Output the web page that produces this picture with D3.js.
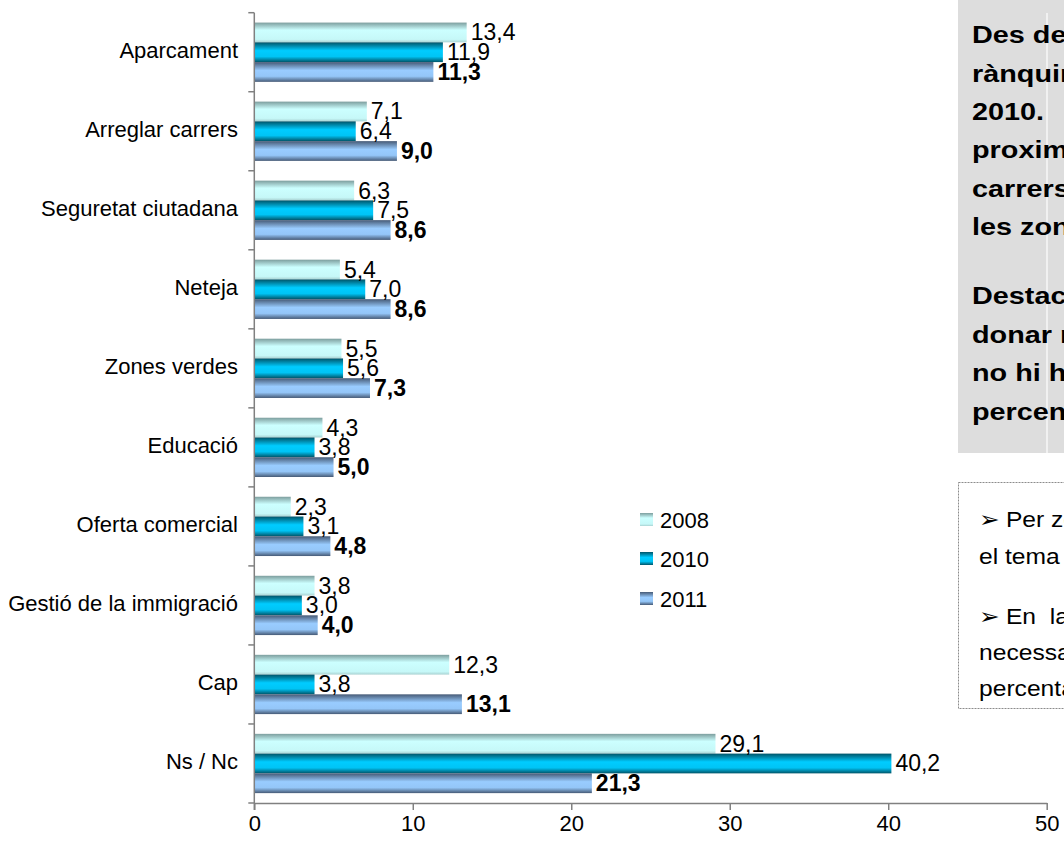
<!DOCTYPE html>
<html>
<head>
<meta charset="utf-8">
<script src="https://cdn.jsdelivr.net/npm/d3@7"></script>
<style>
  html, body { margin: 0; padding: 0; overflow: hidden; background: #fff; }
  svg { display: block; font-family: "Liberation Sans", Arial, sans-serif; }
</style>
</head>
<body>
<svg id="chart" width="1064" height="843"></svg>
<script>
const categories = ["Aparcament", "Arreglar carrers", "Seguretat ciutadana", "Neteja", "Zones verdes",
  "Educació ", "Oferta comercial", "Gestió de la immigració", "Cap", "Ns / Nc"];
const seriesNames = ["2008", "2010", "2011"];
const values2008 = [13.4, 7.1, 6.3, 5.4, 5.5, 4.3, 2.3, 3.8, 12.3, 29.1];
const values2010 = [11.9, 6.4, 7.5, 7.0, 5.6, 3.8, 3.1, 3.0, 3.8, 40.2];
const values2011 = [11.3, 9.0, 8.6, 8.6, 7.3, 5.0, 4.8, 4.0, 13.1, 21.3];
const xTicks = [0, 10, 20, 30, 40, 50];

const NB = "\u00A0";
const boxLines = [
  "Des de 2008 l'aparcament encapçala el",
  "rànquing de millores, excepte l'any",
  "2010." + NB.repeat(6) + "Per darrere se situen, amb",
  "proximitat, la neteja, arreglar els",
  "carrers, la seguretat ciutadana i",
  "les zones verdes."
];
const boxLines2 = [
  "Destaca l'elevat percentatge de no",
  "donar resposta, tot i que enguany",
  "no hi ha tant de volum de gent",
  "percentatge del 21,3%."
];
const noteLines = [
  "\u27A2 Per zones, a totes destaca",
  "el tema de l'aparcament.",
  "\u27A2 En" + NB + NB + "la zona nord es veu",
  "necessari arreglar carrers en un",
  "percentatge més elevat."
];

const seriesValues = [values2008, values2010, values2011];
const svg = d3.select("#chart");

// gradients
const defs = svg.append("defs");
const grads = [
  {id: "g2008", stops: [[0, "#7d9e9e"], [0.38, "#ccffff"], [0.85, "#c6f8f8"], [1, "#a9d2d2"]]},
  {id: "g2010", stops: [[0, "#005468"], [0.42, "#00ccff"], [0.72, "#00c4f5"], [1, "#005468"]]},
  {id: "g2011", stops: [[0, "#465a76"], [0.42, "#99ccff"], [0.72, "#94c6f8"], [1, "#465a76"]]}
];
grads.forEach(g => {
  const lg = defs.append("linearGradient").attr("id", g.id)
    .attr("x1", 0).attr("y1", 0).attr("x2", 0).attr("y2", 1);
  g.stops.forEach(s => lg.append("stop").attr("offset", s[0]).attr("stop-color", s[1]));
});

// right text boxes
svg.append("rect").attr("x", 958).attr("y", 0).attr("width", 120).attr("height", 453).attr("fill", "#dddddd");
svg.append("line").attr("x1", 1047).attr("x2", 1047).attr("y1", 13).attr("y2", 453)
  .attr("stroke", "#ffffff").attr("stroke-width", 1.2);
const boxText = svg.append("g").attr("font-weight", "bold").attr("font-size", 24).attr("fill", "#000");
const boxY = [35, 73.5, 112, 150, 188.5, 227, 296, 334.5, 373, 411.5];
boxLines.concat(boxLines2).forEach((t, i) => boxText.append("text")
  .attr("transform", `translate(972,${boxY[i]}) scale(1.2,1)`)
  .attr("dominant-baseline", "central").text(t));

svg.append("rect").attr("x", 958.5).attr("y", 482.5).attr("width", 130).attr("height", 226)
  .attr("fill", "none").attr("stroke", "#8c8c8c").attr("stroke-width", 1).attr("stroke-dasharray", "2,1");
const noteY = [519, 556, 616, 652, 688];
const noteText = svg.append("g").attr("font-size", 22).attr("fill", "#000");
noteLines.forEach((t, i) => noteText.append("text")
  .attr("transform", `translate(979,${noteY[i]}) scale(1.12,1)`)
  .attr("dominant-baseline", "central").text(t));

// scales
const x = d3.scaleLinear().domain([0, 50]).range([254.3, 1046.7]);
const y0 = d3.scaleBand().domain(categories).range([12.7, 803]).paddingInner(0.25).paddingOuter(0.125);
const y1 = d3.scaleBand().domain(seriesNames).range([0, y0.bandwidth()]);
const yb = d3.scaleBand().domain(categories).range([12.7, 803]);

// bars
const groups = svg.append("g").selectAll("g").data(categories).join("g")
  .attr("transform", c => `translate(0,${y0(c)})`);
seriesNames.forEach((s, si) => {
  groups.append("rect")
    .attr("x", x(0))
    .attr("y", y1(s))
    .attr("width", (c, ci) => x(seriesValues[si][ci]) - x(0))
    .attr("height", y1.bandwidth())
    .attr("fill", `url(#g${s})`);
});
seriesNames.forEach((s, si) => {
  groups.append("text")
    .attr("x", (c, ci) => x(seriesValues[si][ci]) + 4)
    .attr("y", y1(s) + y1.bandwidth() / 2)
    .attr("dominant-baseline", "central")
    .attr("font-size", 23)
    .attr("font-weight", si === 2 ? "bold" : "normal")
    .attr("fill", "#000")
    .text((c, ci) => seriesValues[si][ci].toFixed(1).replace(".", ","));
});

// x axis
const xAxis = svg.append("g").attr("transform", "translate(0,803)")
  .call(d3.axisBottom(x).tickValues(xTicks).tickSize(7).tickSizeOuter(0).tickFormat(d => d));
xAxis.select(".domain").attr("stroke", "#808080").attr("stroke-width", 1.5);
xAxis.selectAll(".tick line").attr("stroke", "#808080").attr("stroke-width", 1.5);
xAxis.selectAll(".tick text").attr("font-size", 22).attr("fill", "#000").attr("dy", "0.8em")
  .attr("font-family", "Liberation Sans, Arial, sans-serif");

// y axis
const yAxisG = svg.append("g");
yAxisG.append("line").attr("x1", x(0)).attr("x2", x(0)).attr("y1", yb.range()[0]).attr("y2", 810)
  .attr("stroke", "#808080").attr("stroke-width", 1.5);
const boundaries = categories.map(c => yb(c)).concat([yb.range()[1]]);
yAxisG.selectAll(".yt").data(boundaries).join("line").attr("class", "yt")
  .attr("x1", x(0) - 6).attr("x2", x(0)).attr("y1", d => d).attr("y2", d => d)
  .attr("stroke", "#808080").attr("stroke-width", 1.5);
yAxisG.selectAll(".yl").data(categories).join("text").attr("class", "yl")
  .attr("x", 238).attr("y", c => yb(c) + yb.bandwidth() / 2 - 2)
  .attr("text-anchor", "end").attr("dominant-baseline", "central")
  .attr("font-size", 22).attr("fill", "#000")
  .text(c => c);

// legend
const legendY = [520, 559, 599];
const legend = svg.append("g");
seriesNames.forEach((s, i) => {
  legend.append("rect").attr("x", 640).attr("y", legendY[i] - 7).attr("width", 13).attr("height", 13)
    .attr("fill", `url(#g${s})`);
  legend.append("text").attr("x", 660).attr("y", legendY[i]).attr("dominant-baseline", "central")
    .attr("font-size", 22).attr("fill", "#000").text(s);
});
</script>
</body>
</html>
